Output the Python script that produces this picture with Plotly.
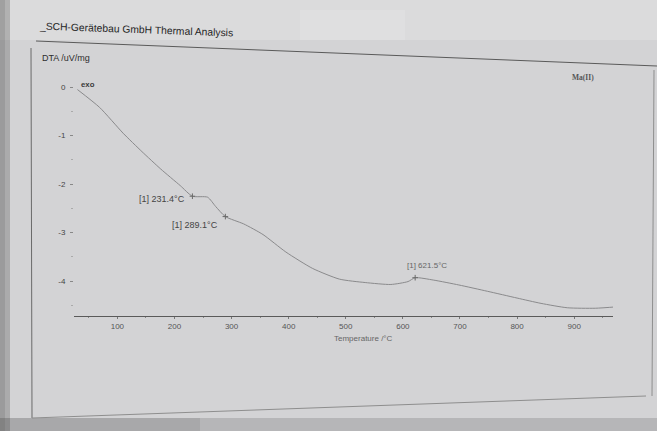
import plotly.graph_objects as go

# DTA trace of Ma(II): temperature (°C) and DTA signal (uV/mg)
temperature_c = [30, 69, 110, 143, 176, 210, 231.4, 258, 272, 289.1, 321, 355, 395,
                 442, 489, 534, 579, 609, 621.5, 654, 698, 748, 800, 842, 888, 937, 975]
dta_uv_mg = [-0.05, -0.42, -0.95, -1.33, -1.69, -2.03, -2.25, -2.27, -2.46, -2.67, -2.82,
             -3.04, -3.40, -3.74, -3.96, -4.03, -4.07, -4.01, -3.93, -3.98, -4.08, -4.21,
             -4.35, -4.46, -4.55, -4.56, -4.53]

# Evaluated peak / onset temperatures
peak_temps = [231.4, 289.1, 621.5]
peak_labels = ["[1] 231.4°C", "[1] 289.1°C", "[1] 621.5°C"]

x_ticks = [100, 200, 300, 400, 500, 600, 700, 800, 900]
y_ticks = [0, -1, -2, -3, -4]

W, H = 657, 431
L, R, T, B = 74, 44, 75, 115
PW, PH = W - L - R, H - T - B


def px(x):
    return (x - L) / PW


def py(y):
    return (H - B - y) / PH


peak_vals = [dta_uv_mg[temperature_c.index(t)] for t in peak_temps]

fig = go.Figure()
fig.add_trace(go.Scatter(
    x=temperature_c, y=dta_uv_mg, mode="lines",
    line=dict(color="#8a8a8c", width=1, shape="spline", smoothing=0.6),
    showlegend=False, hoverinfo="x+y",
))
fig.add_trace(go.Scatter(
    x=peak_temps, y=peak_vals, mode="markers",
    marker=dict(symbol="cross-thin", size=4, line=dict(color="#6a6a6a", width=1)),
    showlegend=False, hoverinfo="x+y",
))

font = "Liberation Sans, Arial, sans-serif"
ann = []
# label placement relative to each marker: (xanchor, xshift, yshift, size, colour)
placement = [("right", -5, -3, 9, "#444"), ("right", -5, -8, 9, "#444"),
             ("left", -10, 12, 8, "#666")]
for t, v, lab, (xa, dx, dy, fs, col) in zip(peak_temps, peak_vals, peak_labels, placement):
    ann.append(dict(x=t, y=v, xref="x", yref="y", text=lab, showarrow=False,
                    xanchor=xa, yanchor="middle", xshift=dx, yshift=dy,
                    font=dict(family=font, size=fs, color=col)))


def text_at(x, y, s, size, color, family=font, xanchor="left", angle=0):
    return dict(x=px(x), y=py(y), xref="paper", yref="paper", text=s, showarrow=False,
                xanchor=xanchor, yanchor="middle", textangle=angle,
                font=dict(family=family, size=size, color=color))


ann += [
    text_at(37, 29, "_SCH-Gerätebau GmbH Thermal Analysis", 10.3, "#262626", angle=2),
    text_at(40, 58, "DTA /uV/mg", 9, "#2e2e2e"),
    text_at(79, 84, "<b>exo</b>", 7.8, "#3a3a3a"),
    text_at(583, 77, "<b>Ma(II)</b>", 7.5, "#555", family="Liberation Serif, serif", xanchor="center"),
    text_at(363, 338, "Temperature /°C", 8, "#666", xanchor="center"),
]

shapes = [
    # page shading
    dict(type="rect", xref="paper", yref="paper", x0=px(0), x1=px(W), y0=py(0), y1=py(40),
         fillcolor="rgba(255,255,255,0.18)", line_width=0, layer="below"),
    dict(type="rect", xref="paper", yref="paper", x0=px(300), x1=px(405), y0=py(10), y1=py(40),
         fillcolor="rgba(255,255,255,0.12)", line_width=0, layer="below"),
    dict(type="rect", xref="paper", yref="paper", x0=px(0), x1=px(10), y0=py(0), y1=py(H),
         fillcolor="rgba(70,70,70,0.28)", line_width=0, layer="below"),
    dict(type="rect", xref="paper", yref="paper", x0=px(0), x1=px(5), y0=py(0), y1=py(H),
         fillcolor="rgba(70,70,70,0.15)", line_width=0, layer="below"),
    dict(type="rect", xref="paper", yref="paper", x0=px(0), x1=px(W), y0=py(418), y1=py(H),
         fillcolor="rgba(70,70,70,0.2)", line_width=0, layer="below"),
    dict(type="rect", xref="paper", yref="paper", x0=px(0), x1=px(200), y0=py(418), y1=py(H),
         fillcolor="rgba(70,70,70,0.12)", line_width=0, layer="below"),
    # page frame lines
    dict(type="line", xref="paper", yref="paper", x0=px(36), y0=py(41), x1=px(657), y1=py(66),
         line=dict(color="#5a5a5a", width=1)),
    dict(type="line", xref="paper", yref="paper", x0=px(31), y0=py(48), x1=px(32), y1=py(418),
         line=dict(color="#6a6a6a", width=1)),
    dict(type="line", xref="paper", yref="paper", x0=px(32), y0=py(418), x1=px(646), y1=py(396),
         line=dict(color="#8e8e8e", width=1)),
    dict(type="line", xref="paper", yref="paper", x0=px(654), y0=py(70), x1=px(652), y1=py(396),
         line=dict(color="#8e8e8e", width=1)),
]

fig.update_layout(
    width=W, height=H, margin=dict(l=L, r=R, t=T, b=B),
    paper_bgcolor="#d3d3d5", plot_bgcolor="rgba(0,0,0,0)",
    annotations=ann, shapes=shapes,
    xaxis=dict(range=[24, 968], tickvals=x_ticks, showgrid=False, zeroline=False,
               showline=True, linecolor="#5a5a5a", linewidth=1,
               ticks="outside", ticklen=2, tickcolor="#777",
               minor=dict(dtick=50, tick0=0, ticks="outside", ticklen=1, tickcolor="#888"),
               tickfont=dict(family=font, size=8, color="#555")),
    yaxis=dict(range=[-4.72, 0.25], tickvals=y_ticks, ticktext=[str(v) for v in y_ticks],
               showgrid=False, zeroline=False, showline=False,
               ticks="outside", ticklen=3, tickcolor="#888", ticklabelstandoff=3,
               minor=dict(dtick=0.5, tick0=0, ticks="outside", ticklen=2, tickcolor="#aaa"),
               tickfont=dict(family=font, size=8, color="#444")),
)

fig.write_html("out.html")
